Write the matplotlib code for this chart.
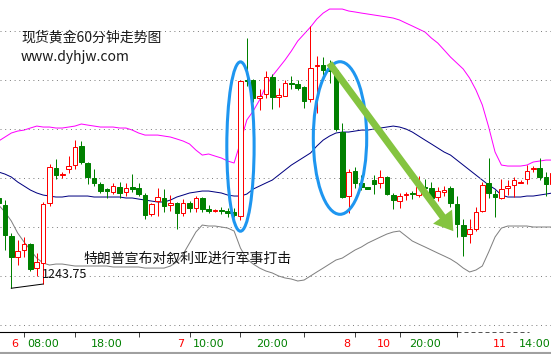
import matplotlib
matplotlib.use("Agg")
import numpy as np
import matplotlib.pyplot as plt
from matplotlib.patches import Ellipse
from matplotlib.ticker import MultipleLocator

# Hourly candles (spot gold, 60 min)
OPEN = [1252.96, 1252.24, 1249.08, 1246.94, 1247.65, 1248.26, 1245.81, 1246.32, 1252.45, 1256.02,
        1255.30, 1255.92, 1256.32, 1258.26, 1256.53, 1255.00, 1254.38, 1253.87, 1253.57, 1254.08,
        1253.57, 1254.08, 1253.98, 1253.26, 1251.32, 1252.65, 1252.96, 1252.24, 1252.45, 1251.43,
        1252.45, 1251.94, 1252.96, 1251.83, 1251.63, 1251.73, 1251.63, 1251.53, 1251.12, 1265.00,
        1265.00, 1263.16, 1263.57, 1265.30, 1263.26, 1263.36, 1264.69, 1264.59, 1264.28, 1263.06,
        1266.43, 1266.53, 1266.22, 1266.02, 1259.69, 1253.16, 1255.71, 1254.49, 1254.08, 1254.79,
        1254.49, 1255.10, 1253.26, 1252.65, 1253.26, 1253.47, 1253.26, 1254.08, 1253.98, 1253.06,
        1253.57, 1253.98, 1252.34, 1250.20, 1249.28, 1249.79, 1251.63, 1254.49, 1253.36, 1252.96,
        1253.98, 1254.28, 1254.49, 1254.89, 1255.92, 1256.02, 1255.10, 1254.38]
CLOSE = [1252.45, 1249.18, 1246.94, 1247.55, 1248.26, 1245.71, 1246.43, 1252.34, 1256.12, 1255.30,
         1255.40, 1256.22, 1258.16, 1256.63, 1255.10, 1254.49, 1253.67, 1253.67, 1254.18, 1253.47,
         1253.98, 1253.87, 1253.36, 1251.22, 1252.34, 1253.06, 1252.14, 1252.45, 1251.43, 1252.45,
         1251.94, 1252.96, 1251.83, 1251.63, 1251.73, 1251.63, 1251.43, 1251.22, 1264.89, 1264.89,
         1263.16, 1263.36, 1265.30, 1263.26, 1263.47, 1264.69, 1264.59, 1264.18, 1262.85, 1266.22,
         1266.53, 1266.02, 1265.92, 1260.00, 1253.06, 1255.61, 1254.49, 1254.08, 1253.87, 1254.38,
         1255.10, 1253.36, 1252.75, 1253.16, 1253.36, 1253.36, 1254.08, 1253.98, 1252.96, 1253.67,
         1253.77, 1252.45, 1250.30, 1249.08, 1249.79, 1251.53, 1254.28, 1253.47, 1253.06, 1253.87,
         1254.18, 1254.79, 1254.59, 1255.71, 1256.02, 1255.10, 1254.38, 1255.51]
HIGH = [1253.16, 1252.75, 1249.38, 1248.67, 1248.98, 1248.36, 1247.34, 1252.55, 1256.43, 1256.94,
        1255.61, 1257.24, 1258.87, 1258.77, 1256.63, 1255.92, 1254.59, 1253.98, 1254.49, 1254.59,
        1254.49, 1255.40, 1254.49, 1253.47, 1252.45, 1253.98, 1253.87, 1253.26, 1252.55, 1252.85,
        1252.65, 1253.16, 1253.06, 1252.24, 1251.83, 1252.04, 1251.94, 1251.94, 1265.00, 1269.28,
        1265.10, 1264.08, 1265.92, 1265.61, 1264.18, 1265.00, 1265.40, 1265.00, 1264.38, 1270.51,
        1267.45, 1267.34, 1267.04, 1266.22, 1260.61, 1255.92, 1256.12, 1255.30, 1254.10, 1255.30,
        1255.81, 1255.20, 1253.47, 1253.47, 1253.57, 1253.67, 1255.20, 1254.89, 1254.59, 1254.08,
        1254.18, 1254.18, 1253.16, 1250.81, 1250.81, 1252.04, 1254.59, 1257.04, 1253.77, 1254.89,
        1254.79, 1255.10, 1254.79, 1256.32, 1256.22, 1257.04, 1255.61, 1255.81]
LOW = [1252.24, 1247.65, 1243.75, 1246.12, 1246.94, 1245.51, 1245.00, 1244.18, 1252.14, 1254.89,
       1255.00, 1255.51, 1255.92, 1256.43, 1254.38, 1254.18, 1253.47, 1252.96, 1253.36, 1252.96,
       1253.16, 1253.57, 1253.16, 1250.81, 1251.12, 1251.12, 1251.53, 1251.63, 1249.79, 1251.12,
       1251.53, 1251.53, 1251.53, 1251.43, 1251.53, 1251.32, 1251.02, 1251.02, 1250.71, 1264.38,
       1262.75, 1261.94, 1263.16, 1262.04, 1262.24, 1263.36, 1264.08, 1263.98, 1262.14, 1262.75,
       1261.63, 1265.51, 1264.69, 1259.79, 1252.96, 1251.43, 1253.98, 1253.77, 1253.85, 1253.36,
       1253.98, 1253.26, 1251.83, 1251.94, 1252.75, 1252.85, 1253.06, 1253.16, 1252.75, 1252.65,
       1253.16, 1252.04, 1248.98, 1247.04, 1248.36, 1249.59, 1251.53, 1252.96, 1251.02, 1252.85,
       1253.26, 1253.06, 1254.45, 1254.38, 1255.61, 1254.79, 1253.16, 1254.18]

# Bollinger bands
BB_UPPER = [1258.77, 1259.18, 1259.59, 1259.79, 1259.89, 1260.10, 1260.30, 1260.20, 1260.20, 1260.10,
            1260.10, 1260.20, 1260.30, 1260.51, 1260.40, 1260.30, 1260.20, 1260.20, 1260.20, 1260.10,
            1260.10, 1259.89, 1259.59, 1259.38, 1259.38, 1259.38, 1259.28, 1259.18, 1258.98, 1258.77,
            1258.47, 1257.85, 1257.34, 1257.45, 1257.24, 1257.04, 1256.73, 1256.53, 1258.67, 1260.92,
            1261.83, 1262.96, 1264.38, 1265.40, 1266.22, 1267.04, 1267.96, 1268.98, 1269.69, 1270.40,
            1271.22, 1271.83, 1272.24, 1272.24, 1272.24, 1272.04, 1271.94, 1271.83, 1271.73, 1271.63,
            1271.53, 1271.43, 1271.32, 1271.12, 1270.81, 1270.51, 1270.20, 1269.89, 1269.28, 1268.77,
            1268.06, 1267.34, 1266.73, 1266.12, 1265.20, 1263.98, 1262.45, 1260.20, 1257.65, 1256.32,
            1256.22, 1256.22, 1256.22, 1256.32, 1256.63, 1256.73, 1256.83, 1256.83]
BB_MID = [1255.61, 1255.40, 1255.10, 1254.59, 1254.18, 1253.77, 1253.47, 1253.26, 1253.16, 1253.06,
          1253.06, 1253.16, 1253.16, 1253.16, 1253.16, 1253.06, 1253.06, 1253.06, 1253.06, 1253.06,
          1252.96, 1252.96, 1252.85, 1252.75, 1252.65, 1252.55, 1252.55, 1252.75, 1253.06, 1253.26,
          1253.47, 1253.57, 1253.67, 1253.67, 1253.57, 1253.47, 1253.26, 1253.16, 1253.16, 1253.36,
          1253.87, 1254.18, 1254.49, 1254.79, 1255.30, 1255.81, 1256.32, 1256.73, 1257.14, 1257.55,
          1258.26, 1258.87, 1259.28, 1259.59, 1259.69, 1259.69, 1259.79, 1259.89, 1259.89, 1260.00,
          1260.10, 1260.20, 1260.30, 1260.20, 1260.00, 1259.69, 1259.28, 1258.87, 1258.47, 1258.06,
          1257.65, 1257.34, 1256.83, 1256.32, 1255.81, 1255.30, 1254.79, 1254.28, 1253.87, 1253.26,
          1253.06, 1253.06, 1253.06, 1253.16, 1253.16, 1253.26, 1253.36, 1253.47]
BB_LOWER = [1252.24, 1251.53, 1250.61, 1249.38, 1248.47, 1247.65, 1246.83, 1246.32, 1246.12, 1246.22,
            1246.22, 1246.12, 1246.02, 1246.02, 1246.02, 1246.02, 1246.02, 1246.02, 1245.92, 1245.92,
            1245.92, 1245.92, 1245.92, 1245.81, 1245.81, 1245.81, 1245.81, 1246.02, 1246.43, 1247.24,
            1248.36, 1249.49, 1250.20, 1250.10, 1250.10, 1250.00, 1249.89, 1249.59, 1247.85, 1246.73,
            1246.22, 1245.81, 1245.51, 1245.31, 1245.00, 1244.80, 1244.69, 1244.49, 1244.59, 1245.00,
            1245.41, 1245.81, 1246.22, 1246.63, 1246.83, 1247.24, 1247.65, 1247.96, 1248.36, 1248.67,
            1248.98, 1249.28, 1249.49, 1249.59, 1249.08, 1248.57, 1248.26, 1247.96, 1247.65, 1247.34,
            1247.04, 1246.73, 1246.32, 1245.81, 1245.41, 1245.61, 1246.02, 1247.45, 1248.98, 1249.89,
            1250.10, 1250.10, 1250.10, 1250.10, 1250.00, 1250.00, 1250.00, 1250.00]

# time axis (candle index positions)
TICK_POS = [4, 12, 22, 30, 38, 48, 56, 63, 72]
DAY_LABELS = ["6", "7", "8", "10", "11"]
DAY_POS = [2.58, 28.58, 54.74, 60.55, 78.77]
TIME_LABELS = ["08:00", "18:00", "10:00", "20:00", "20:00", "14:00"]
TIME_POS = [7, 17, 33, 43, 67, 84.3]

TITLE = "现货黄金60分钟走势图"
SITE = "www.dyhjw.com"
NEWS = "特朗普宣布对叙利亚进行军事打击"
LOW_LABEL = "1243.75"

# style
W_PX, H_PX = 551, 354
DPI = 100
RED = "#FF0000"
GREEN = "#008000"
BODY_W = 0.72
LW = 0.72  # one pixel
CJK = ["Noto Sans CJK SC", "DejaVu Sans"]

fig = plt.figure(figsize=(W_PX / DPI, H_PX / DPI), dpi=DPI)
ax = fig.add_axes([0, 22 / H_PX, 1, 332 / H_PX])
ax.set_xlim(0.22, 86.79)
ax.set_ylim(1239.286, 1273.163)

# grid
ax.yaxis.set_major_locator(MultipleLocator(5))
ax.tick_params(axis="y", left=False, labelleft=False)
ax.grid(axis="y", color="#808080", linestyle=(0, (1, 3.7)), linewidth=LW, zorder=0)
for side in ["left", "right", "top"]:
    ax.spines[side].set_visible(False)

# bands
x = np.arange(len(OPEN))
ax.plot(x, BB_UPPER, color="#FF00FF", lw=LW, zorder=1)
ax.plot(x, BB_MID, color="#000080", lw=LW, zorder=1)
ax.plot(x, BB_LOWER, color="#808080", lw=LW, zorder=1)

# candles
o = np.array(OPEN)
c = np.array(CLOSE)
h = np.array(HIGH)
l = np.array(LOW)
up = c >= o
body_lo = np.minimum(o, c)
body_h = np.maximum(np.abs(c - o), 0.05)
ax.vlines(x[up], l[up], h[up], color=RED, lw=LW, zorder=3)
ax.bar(x[up], body_h[up], bottom=body_lo[up], width=BODY_W, facecolor="white",
       edgecolor=RED, linewidth=LW, zorder=4)
ax.vlines(x[~up], l[~up], h[~up], color=GREEN, lw=LW, zorder=3)
ax.bar(x[~up], body_h[~up], bottom=body_lo[~up], width=BODY_W, facecolor=GREEN,
       edgecolor=GREEN, linewidth=LW, zorder=4)

# line to the low
ax.plot([2, 7], [LOW[2], LOW[7]], color="black", lw=LW, zorder=5)
ax.text(6.82, 1245.13, LOW_LABEL, family=CJK, fontsize=9.1, color="#111111",
        ha="left", va="center", zorder=6)
ax.text(13.26, 1246.73, NEWS, family=CJK, fontsize=10, color="#111111",
        ha="left", va="center", zorder=6)

# hand drawn marks
for cx, cy, ew, eh in [(38.0, 1258.21, 4.29, 17.28), (53.64, 1259.08, 8.39, 15.57)]:
    ax.add_patch(Ellipse((cx, cy), ew, eh, fill=False, edgecolor="#1E96F0", lw=2.2, zorder=7))
ax.annotate("", xy=(71.7, 1249.35), xytext=(51.7, 1266.94),
            arrowprops=dict(arrowstyle="simple,head_length=1.3,head_width=1.7,tail_width=0.5",
                            mutation_scale=10, color="#84C440", lw=0),
            zorder=8)

# x axis
ax.spines["bottom"].set_bounds(0.22, 72)
ax.plot([72, 83.3], [0, 0], transform=ax.get_xaxis_transform(), color="#555555",
        lw=LW, linestyle=(0, (4, 3)), clip_on=False)
ax.set_xticks(TICK_POS)
ax.set_xticklabels([])
ax.tick_params(axis="x", direction="out", length=3.6, width=LW, color="#444444")
xt = ax.get_xaxis_transform()
for pos, lab in zip(DAY_POS, DAY_LABELS):
    ax.text(pos, -12 / 332, lab, transform=xt, color=RED, fontsize=8, ha="center", va="center")
for pos, lab in zip(TIME_POS, TIME_LABELS):
    ax.text(pos, -12 / 332, lab, transform=xt, color=GREEN, fontsize=8, ha="center", va="center")

# watermark text
fig.text(21 / W_PX, 1 - 37.5 / H_PX, TITLE, family=CJK, fontsize=10, color="#1a1a1a",
         ha="left", va="center")
fig.text(21 / W_PX, 1 - 57.5 / H_PX, SITE, family=CJK, fontsize=10, color="#1a1a1a",
         ha="left", va="center")

# window border at the bottom
fig.add_artist(plt.Line2D([0, 1], [1.5 / H_PX, 1.5 / H_PX], color="#A0A0A0", lw=1.5))

fig.savefig("out.png", dpi=DPI)
